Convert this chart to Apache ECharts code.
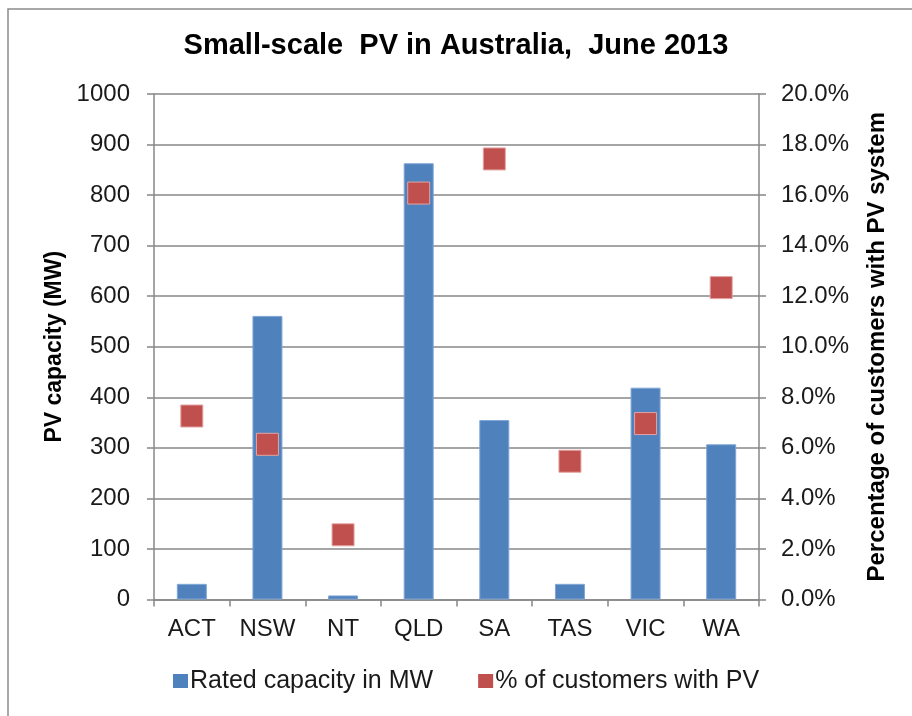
<!DOCTYPE html>
<html>
<head>
<meta charset="utf-8">
<title>Small-scale PV in Australia, June 2013</title>
<script src="https://cdn.jsdelivr.net/npm/echarts@6/dist/echarts.min.js"></script>
<style>
  html, body { margin: 0; padding: 0; background: #fff; }
  #chart { width: 912px; height: 716px; }
</style>
</head>
<body>
<div id="chart"></div>
<script>
// states
const states = ['ACT', 'NSW', 'NT', 'QLD', 'SA', 'TAS', 'VIC', 'WA']
// rated capacity in MW
const capacityMW = [31, 561, 8, 863, 355, 31, 419, 307]
// % of customers with PV
const customerPct = [7.26, 6.14, 2.56, 16.08, 17.43, 5.47, 6.96, 12.34]

const font = 'Liberation Sans, Arial, sans-serif'
const textColor = '#1a1a1a'
const axisGray = '#878787'

const myChart = echarts.init(document.getElementById('chart'))
myChart.setOption({
  backgroundColor: '#fff',
  animation: false,
  textStyle: { fontFamily: font },
  title: {
    text: 'Small-scale  PV in Australia,  June 2013',
    left: 'center',
    top: 31,
    padding: 0,
    textStyle: { fontSize: 29, lineHeight: 30, fontWeight: 'bold', color: '#000', fontFamily: font }
  },
  legend: {
    top: 668,
    left: 173,
    padding: 0,
    itemWidth: 15,
    itemHeight: 14,
    itemGap: 45,
    itemStyle: { borderWidth: 0 },
    textStyle: { fontSize: 25, lineHeight: 26, color: textColor, padding: [0, 0, 0, -3] },
    data: [
      { name: 'Rated capacity in MW', icon: 'rect' },
      { name: '% of customers with PV', icon: 'rect' }
    ]
  },
  grid: {
    left: 154,
    right: 153,
    top: 94,
    bottom: 116.5
  },
  xAxis: {
    type: 'category',
    data: states,
    axisLine: { lineStyle: { color: axisGray, width: 1.5 } },
    axisTick: { show: true, alignWithLabel: false, length: 7, lineStyle: { color: axisGray, width: 1.5 } },
    axisLabel: { fontSize: 24, color: textColor, margin: 18 }
  },
  yAxis: [
    {
      type: 'value',
      min: 0,
      max: 1000,
      interval: 100,
      name: 'PV capacity (MW)',
      nameLocation: 'middle',
      nameGap: 85,
      nameRotate: 90,
      nameTextStyle: { fontSize: 23, fontWeight: 'bold', color: '#000' },
      axisLine: { show: true, lineStyle: { color: axisGray, width: 1.5 } },
      axisTick: { show: true, length: 7, lineStyle: { color: axisGray, width: 1.5 } },
      axisLabel: {
        fontSize: 24,
        color: textColor,
        margin: 24,
        formatter: function (v) { return String(v) }
      },
      splitLine: { lineStyle: { color: axisGray, width: 1.5 } }
    },
    {
      type: 'value',
      min: 0,
      max: 20,
      interval: 2,
      position: 'right',
      name: 'Percentage of customers with PV system',
      nameLocation: 'middle',
      nameGap: 106,
      nameRotate: 90,
      nameTextStyle: { fontSize: 24, fontWeight: 'bold', color: '#000' },
      axisLine: { show: true, lineStyle: { color: axisGray, width: 1.5 } },
      axisTick: { show: true, length: 7, lineStyle: { color: axisGray, width: 1.5 } },
      axisLabel: {
        fontSize: 24,
        color: textColor,
        margin: 22,
        formatter: function (v) { return v.toFixed(1) + '%' }
      },
      splitLine: { show: false }
    }
  ],
  series: [
    {
      name: 'Rated capacity in MW',
      type: 'bar',
      data: capacityMW,
      yAxisIndex: 0,
      barWidth: 30,
      itemStyle: { color: '#4F81BD', borderColor: '#7fa6d6', borderWidth: 1 }
    },
    {
      name: '% of customers with PV',
      type: 'scatter',
      data: customerPct,
      yAxisIndex: 1,
      symbol: 'rect',
      symbolSize: 22,
      itemStyle: { color: '#C0504D', borderColor: '#e3a3a1', borderWidth: 1, opacity: 1 }
    }
  ],
  graphic: [
    {
      type: 'rect',
      shape: { x: 8, y: 9, width: 920, height: 730 },
      style: { fill: 'none', stroke: '#8c8c8c', lineWidth: 1.5 },
      silent: true
    }
  ]
})
</script>
</body>
</html>
